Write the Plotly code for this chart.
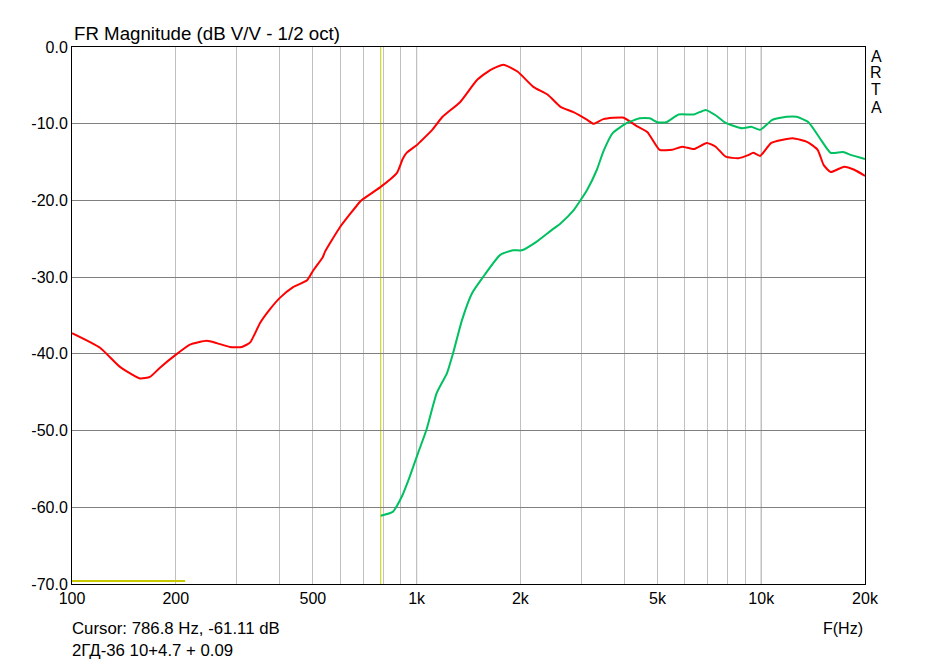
import plotly.graph_objects as go

# red curve (frequency Hz, dB)
red_f = [100, 120.6, 137.8, 157.5, 168.4, 180, 199, 220, 246, 263, 287, 311, 329, 351, 375,
         401, 438, 481, 500, 534, 542, 599, 684, 695, 783, 877, 911, 935, 1000, 1022, 1110, 1189,
         1336, 1497, 1635, 1787, 1962, 2181, 2398, 2615, 2852, 3126, 3259, 3483, 3966, 4352,
         4676, 5071, 5515, 5890, 6377, 6950, 7373, 7883, 8587, 9166, 9475, 9930, 10690,
         12326, 13620, 14575, 15180, 15900, 17390, 18620, 20000]
red_db = [-37.3, -39.2, -41.7, -43.2, -43.0, -41.8, -40.2, -38.8, -38.3, -38.6, -39.1, -39.1,
          -38.5, -36.0, -34.2, -32.7, -31.3, -30.4, -29.2, -27.4, -26.7, -23.5, -20.2, -19.9,
          -18.3, -16.4, -14.6, -13.8, -12.8, -12.4, -10.8, -9.1, -7.2, -4.3, -3.0, -2.3, -3.2, -5.2,
          -6.2, -7.8, -8.5, -9.5, -10.0, -9.4, -9.2, -10.3, -11.1, -13.4, -13.4, -13.0, -13.3,
          -12.5, -13.0, -14.3, -14.5, -14.1, -13.8, -14.2, -12.5, -11.9, -12.4, -13.4, -15.4,
          -16.3, -15.6, -16.0, -16.8]

# green curve
green_f = [786.8, 852, 906, 955, 1010, 1068, 1144, 1225, 1276, 1354, 1448, 1558, 1748, 1904,
           2019, 2226, 2459, 2615, 2852, 3126, 3334, 3483, 3710, 4078, 4442, 4744, 5000, 5300,
           5760, 6377, 6900, 7373, 7883, 8810, 9350, 9930, 10760, 11830, 12670, 13710, 14900,
           15900, 17270, 18280, 20000]
green_db = [-61.11, -60.6, -58.6, -56.0, -52.9, -49.9, -45.1, -42.5, -39.9, -35.6, -32.1, -30.0,
            -27.1, -26.5, -26.5, -25.4, -23.9, -23.0, -21.3, -18.6, -16.0, -13.6, -11.2, -9.9,
            -9.3, -9.3, -9.8, -9.8, -8.8, -8.8, -8.2, -8.9, -9.9, -10.6, -10.4, -10.8, -9.5,
            -9.1, -9.1, -9.8, -12.1, -13.8, -13.7, -14.1, -14.6]

# yellow marker line near bottom
marker_f = [100, 213]
marker_db = [-69.6, -69.6]

cursor_f = 786.8

x_ticks = [100, 200, 500, 1000, 2000, 5000, 10000, 20000]
x_labels = ["100", "200", "500", "1k", "2k", "5k", "10k", "20k"]
x_minor = [300, 400, 600, 700, 800, 900, 3000, 4000, 6000, 7000, 8000, 9000]
y_ticks = [0, -10, -20, -30, -40, -50, -60, -70]
y_labels = ["0.0", "-10.0", "-20.0", "-30.0", "-40.0", "-50.0", "-60.0", "-70.0"]

FONT = "Liberation Sans, Arial, sans-serif"

fig = go.Figure()

fig.add_trace(go.Scatter(x=marker_f, y=marker_db, mode="lines",
                         line=dict(color="#c8c800", width=2), hoverinfo="skip"))
fig.add_trace(go.Scatter(x=red_f, y=red_db, mode="lines",
                         line=dict(color="#ff0000", width=2, shape="spline", smoothing=0.5)))
fig.add_trace(go.Scatter(x=green_f, y=green_db, mode="lines",
                         line=dict(color="#00c060", width=2, shape="spline", smoothing=0.5)))

# darker decade lines
for f in [1000, 10000]:
    fig.add_shape(type="line", xref="x", yref="paper", x0=f, x1=f, y0=0, y1=1,
                  line=dict(color="#808080", width=1), layer="below")
# cursor line
fig.add_shape(type="line", xref="x", yref="paper", x0=cursor_f, x1=cursor_f, y0=0, y1=1,
              line=dict(color="#c8c800", width=1), layer="below")

fig.update_layout(
    width=937, height=664,
    margin=dict(l=72, r=72, t=47, b=80),
    paper_bgcolor="white", plot_bgcolor="white",
    showlegend=False,
    font=dict(family=FONT, size=16, color="black"),
    xaxis=dict(
        type="log", range=[2, 4.30103],
        tickvals=x_ticks, ticktext=x_labels,
        showgrid=True, gridcolor="#c0c0c0", gridwidth=1,
        minor=dict(tickvals=x_minor, showgrid=True, gridcolor="#c0c0c0", gridwidth=1),
        showline=True, linecolor="black", linewidth=1, mirror=True,
        ticks="", zeroline=False,
        tickfont=dict(size=16),
    ),
    yaxis=dict(
        range=[-70, 0],
        tickvals=y_ticks, ticktext=y_labels,
        showgrid=True, gridcolor="#808080", gridwidth=1,
        showline=True, linecolor="black", linewidth=1, mirror=True,
        ticks="", zeroline=False,
        tickfont=dict(size=16),
    ),
)

annotations = [
    dict(text="FR Magnitude (dB V/V - 1/2 oct)", x=0.0, y=1.026, xanchor="left",
         yanchor="middle", font=dict(size=18.7)),
    dict(text="F(Hz)", x=1.0, y=-0.082, xanchor="right", yanchor="middle"),
    dict(text="Cursor: 786.8 Hz, -61.11 dB", x=-0.003, y=-0.082, xanchor="left",
         yanchor="middle", font=dict(size=16.8)),
    dict(text="2ГД-36 10+4.7 + 0.09", x=-0.003, y=-0.123, xanchor="left",
         yanchor="middle", font=dict(size=16.8)),
]
for letter, yy in zip("ARTA", [0.983, 0.9516, 0.920, 0.888]):
    annotations.append(dict(text=letter, x=1.0139, y=yy, xanchor="center", yanchor="middle"))

for a in annotations:
    a.update(xref="paper", yref="paper", showarrow=False)
fig.update_layout(annotations=annotations)

fig.write_html("out.html", config={"displayModeBar": False},
               post_script="document.body.style.margin='0';")
